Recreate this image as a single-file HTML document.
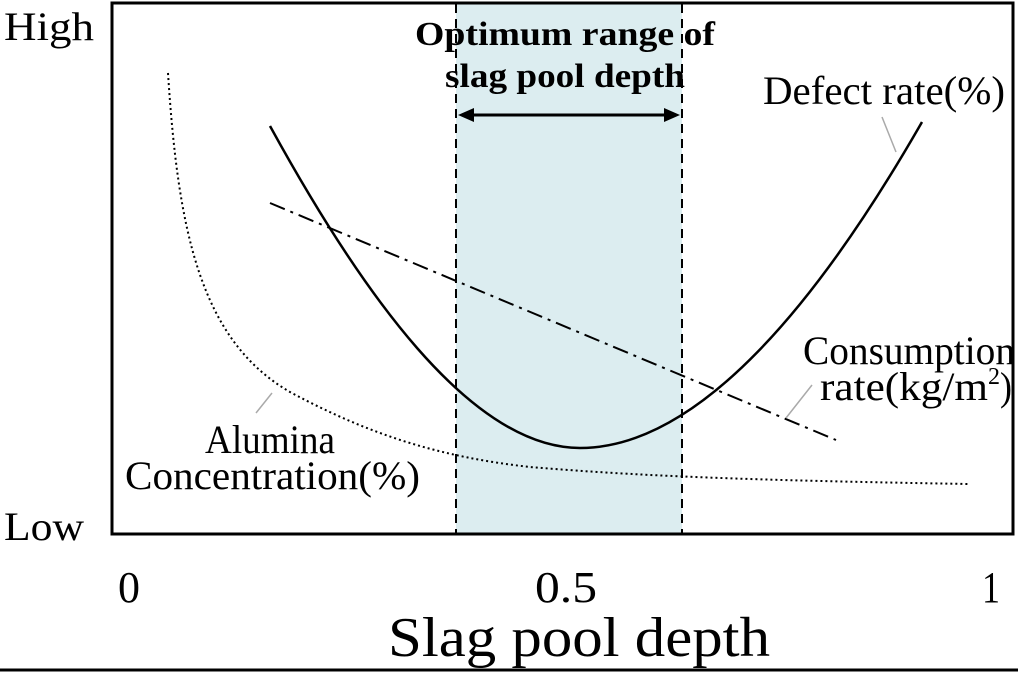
<!DOCTYPE html>
<html><head><style>
body{margin:0;background:#fff}
svg text{font-family:"Liberation Serif",serif;fill:#000}
</style></head><body>
<svg width="1018" height="672" viewBox="0 0 1018 672" xmlns="http://www.w3.org/2000/svg">
<rect x="456" y="4" width="226" height="530" fill="#dcedf0"/>
<rect x="112" y="3" width="901" height="531" fill="none" stroke="#000" stroke-width="3"/>
<line x1="456" y1="4" x2="456" y2="534" stroke="#000" stroke-width="2" stroke-dasharray="9,6"/>
<line x1="682" y1="4" x2="682" y2="534" stroke="#000" stroke-width="2" stroke-dasharray="9,6"/>
<line x1="0" y1="670" x2="1018" y2="670" stroke="#000" stroke-width="3"/>
<line x1="470" y1="115" x2="668" y2="115" stroke="#000" stroke-width="3"/>
<polygon points="458,115 474,108 474,122" fill="#000"/>
<polygon points="680,115 664,108 664,122" fill="#000"/>
<path d="M270,126 C360,290 470,448 580,448 C700,448 820,300 922,122" fill="none" stroke="#000" stroke-width="2.5"/>
<line x1="270" y1="203" x2="836" y2="440" stroke="#000" stroke-width="2" stroke-dasharray="16,6,3,6"/>
<path d="M168,73 C178,230 200,340 290,392 C370,435 440,457 530,467 C660,478 800,481 968,484" fill="none" stroke="#000" stroke-width="2" stroke-dasharray="2,3"/>
<line x1="882" y1="117" x2="896" y2="152" stroke="#aaa" stroke-width="1.5"/>
<line x1="812" y1="385" x2="786" y2="418" stroke="#aaa" stroke-width="1.5"/>
<line x1="272" y1="393" x2="256" y2="413" stroke="#aaa" stroke-width="1.5"/>
<g font-size="40">
<text x="4" y="40" textLength="90" lengthAdjust="spacingAndGlyphs">High</text>
<text x="4" y="540" textLength="80" lengthAdjust="spacingAndGlyphs">Low</text>
<text x="763" y="104" textLength="242" lengthAdjust="spacingAndGlyphs">Defect rate(%)</text>
<text x="803" y="364" textLength="212" lengthAdjust="spacingAndGlyphs">Consumption</text>
<text x="820" y="400" textLength="168" lengthAdjust="spacingAndGlyphs">rate(kg/m</text>
<text x="988" y="384" font-size="24">2</text>
<text x="1000" y="400" textLength="12" lengthAdjust="spacingAndGlyphs">)</text>
<text x="205" y="453" textLength="130" lengthAdjust="spacingAndGlyphs">Alumina</text>
<text x="125" y="489" textLength="295" lengthAdjust="spacingAndGlyphs">Concentration(%)</text>
<text x="118" y="602" font-size="44" textLength="22" lengthAdjust="spacingAndGlyphs">0</text>
<text x="535" y="602" font-size="44" textLength="62" lengthAdjust="spacingAndGlyphs">0.5</text>
<text x="982" y="602" font-size="44" textLength="18" lengthAdjust="spacingAndGlyphs">1</text>
<text x="388" y="656" font-size="56" textLength="382" lengthAdjust="spacingAndGlyphs">Slag pool depth</text>
</g>
<g font-size="34" font-weight="bold" text-anchor="middle">
<text x="565" y="45" textLength="300" lengthAdjust="spacingAndGlyphs">Optimum range of</text>
<text x="565" y="87" textLength="240" lengthAdjust="spacingAndGlyphs">slag pool depth</text>
</g>
</svg>
</body></html>
